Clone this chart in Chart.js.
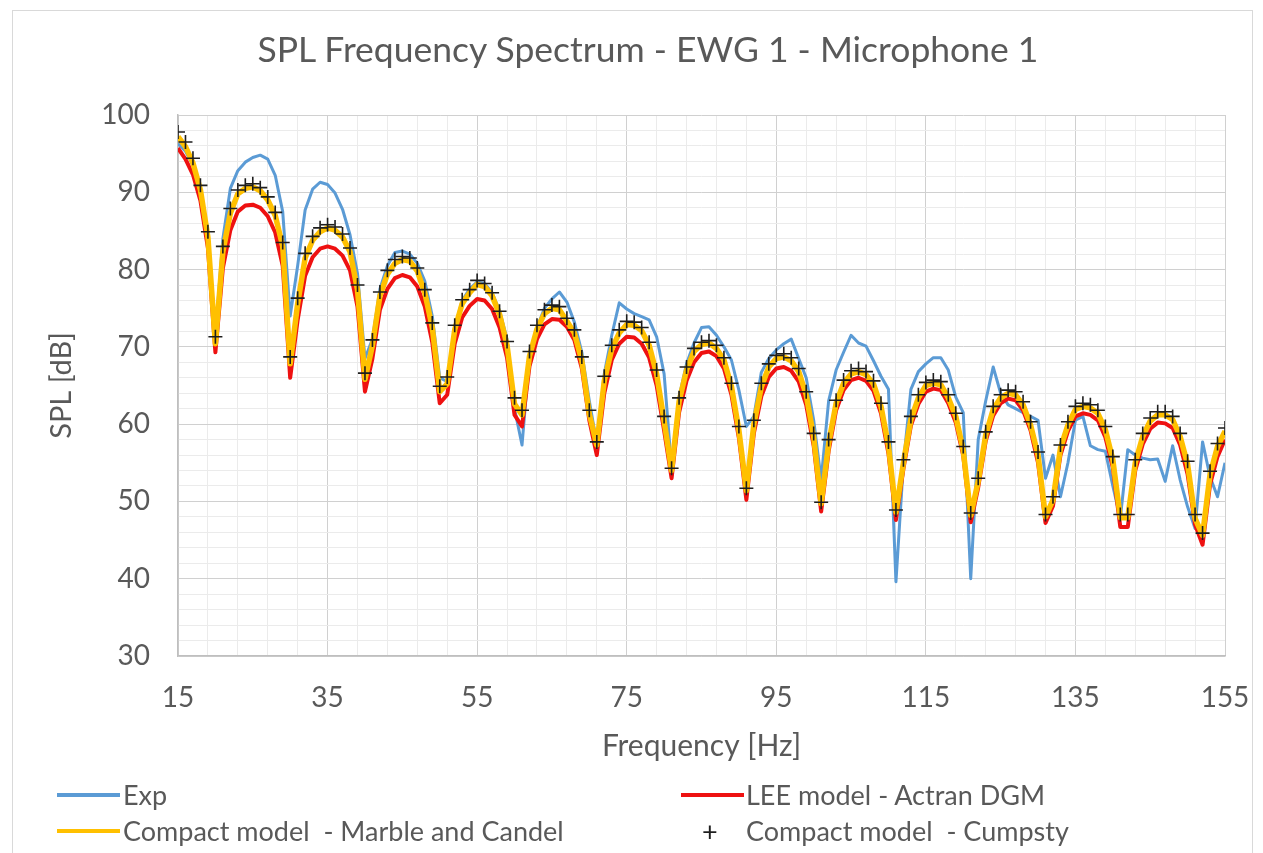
<!DOCTYPE html>
<html>
<head>
<meta charset="utf-8">
<script src="https://cdn.jsdelivr.net/npm/chart.js@4.4.0/dist/chart.umd.min.js"></script>
<style>
  html, body { margin: 0; padding: 0; background: #fff; }
  #wrap { position: relative; width: 1263px; height: 853px; overflow: hidden; }
  #frame { position: absolute; left: 12px; top: 10px; width: 1239px; height: 900px; border: 1px solid #d9d9d9; }
  canvas { position: absolute; left: 0; top: 0; }
  #title { position: absolute; left: 0; top: 29px; width: 1296px; text-align: center;
           font-family: Lato, sans-serif; font-size: 35.5px; line-height: 40px; color: #595959; }
  .item { position: absolute; height: 36px; display: flex; align-items: center;
          font-family: Lato, sans-serif; font-size: 27px; color: #595959; white-space: pre; }
  .swatch { position: absolute; height: 4px; }
</style>
</head>
<body>
<div id="wrap">
  <div id="frame"></div>
  <canvas id="splChart" width="1263" height="853"></canvas>
  <div id="title">SPL Frequency Spectrum - EWG 1 - Microphone 1</div>
  <div id="legend"></div>
</div>
<script>
// frequency bins [Hz]
const freqHz = [
  15, 16, 17, 18, 19, 20, 21, 22, 23, 24,
  25, 26, 27, 28, 29, 30, 31, 32, 33, 34,
  35, 36, 37, 38, 39, 40, 41, 42, 43, 44,
  45, 46, 47, 48, 49, 50, 51, 52, 53, 54,
  55, 56, 57, 58, 59, 60, 61, 62, 63, 64,
  65, 66, 67, 68, 69, 70, 71, 72, 73, 74,
  75, 76, 77, 78, 79, 80, 81, 82, 83, 84,
  85, 86, 87, 88, 89, 90, 91, 92, 93, 94,
  95, 96, 97, 98, 99, 100, 101, 102, 103, 104,
  105, 106, 107, 108, 109, 110, 111, 112, 113, 114,
  115, 116, 117, 118, 119, 120, 121, 122, 123, 124,
  125, 126, 127, 128, 129, 130, 131, 132, 133, 134,
  135, 136, 137, 138, 139, 140, 141, 142, 143, 144,
  145, 146, 147, 148, 149, 150, 151, 152, 153, 154,
  155
];

// Exp
const expDb = [
  96.3, 95.3, 93.5, 90.0, 84.5, 71.5, 84.0, 90.5, 92.8, 93.9,
  94.5, 94.8, 94.3, 92.2, 87.5, 74.0, 80.5, 87.7, 90.4, 91.3,
  91.0, 89.9, 87.8, 84.5, 79.5, 68.5, 71.0, 77.5, 80.5, 82.2,
  82.4, 82.0, 80.8, 78.5, 74.0, 66.0, 65.5, 72.5, 76.0, 77.5,
  78.4, 78.2, 77.0, 74.7, 71.0, 62.0, 57.3, 68.8, 72.5, 75.0,
  76.2, 77.1, 75.8, 73.2, 69.3, 63.0, 57.5, 66.5, 71.5, 75.7,
  74.9, 74.3, 73.9, 73.5, 71.3, 66.5, 54.3, 63.5, 67.8, 70.5,
  72.5, 72.6, 71.5, 70.0, 68.3, 64.4, 59.7, 61.0, 66.7, 68.5,
  69.6, 70.4, 71.0, 68.5, 66.0, 60.5, 52.8, 63.0, 67.0, 69.3,
  71.5, 70.5, 70.1, 68.2, 66.2, 64.5, 39.6, 55.0, 64.5, 66.8,
  67.8, 68.6, 68.6, 67.0, 63.5, 61.5, 40.0, 58.0, 63.0, 67.4,
  64.0, 62.5, 62.0, 61.5, 61.0, 60.5, 53.0, 56.0, 50.6, 55.0,
  60.5, 61.0, 57.2, 56.7, 56.5, 52.0, 47.8, 56.7, 56.0, 55.6,
  55.4, 55.5, 52.6, 57.2, 52.8, 49.3, 46.5, 57.7, 53.2, 50.6,
  55.0
];

// LEE model - Actran DGM
const leeDb = [
  95.7, 94.3, 92.3, 88.9, 82.8, 69.3, 80.2, 85.1, 87.5, 88.3,
  88.4, 88.0, 86.9, 84.8, 80.5, 66.0, 73.5, 79.2, 81.6, 82.7,
  83.0, 82.7, 81.8, 79.9, 75.2, 64.2, 68.5, 74.8, 77.5, 78.9,
  79.3, 79.0, 77.8, 75.2, 70.6, 62.7, 63.8, 70.4, 73.8, 75.3,
  76.2, 76.0, 74.9, 72.5, 68.6, 61.2, 59.7, 67.5, 71.0, 72.9,
  73.6, 73.5, 72.6, 70.9, 67.2, 60.5, 56.0, 64.0, 68.3, 70.4,
  71.3, 71.2, 70.4, 68.6, 65.0, 59.2, 53.0, 61.5, 65.6, 68.0,
  69.2, 69.4, 68.8, 67.2, 63.8, 58.2, 50.2, 58.8, 63.6, 66.1,
  67.2, 67.4, 66.9, 65.5, 62.5, 57.2, 48.7, 56.5, 61.8, 64.4,
  65.7, 66.0, 65.6, 64.3, 61.4, 56.2, 47.6, 54.2, 59.8, 62.6,
  64.2, 64.6, 64.4, 62.7, 60.2, 55.9, 47.3, 51.8, 57.8, 61.1,
  62.7, 63.3, 63.1, 61.8, 59.2, 55.0, 47.2, 49.4, 56.0, 59.1,
  61.0, 61.4, 61.2, 60.5, 58.3, 54.4, 46.7, 46.7, 54.0, 57.4,
  59.4, 60.2, 60.1, 59.5, 57.3, 53.5, 47.0, 44.4, 52.2, 55.8,
  58.0
];

// Compact model - Marble and Candel
const marbleCandelDb = [
  97.2, 95.9, 93.8, 90.3, 84.2, 70.4, 82.3, 87.3, 89.8, 90.5,
  90.7, 90.2, 89.0, 87.0, 83.0, 67.8, 75.6, 81.5, 83.8, 84.9,
  85.4, 85.1, 84.2, 82.3, 77.4, 65.8, 70.2, 76.6, 79.4, 80.8,
  81.3, 81.1, 79.8, 77.0, 72.5, 64.2, 65.2, 72.2, 75.6, 77.0,
  78.1, 77.8, 76.6, 74.2, 70.2, 62.6, 61.2, 68.8, 72.3, 74.3,
  75.0, 74.8, 73.3, 71.8, 68.2, 61.3, 57.3, 65.6, 69.7, 71.8,
  72.9, 72.8, 72.1, 70.2, 66.5, 60.4, 54.0, 62.9, 67.0, 69.4,
  70.3, 70.5, 69.8, 68.3, 64.9, 59.2, 51.4, 60.0, 64.8, 67.4,
  68.5, 68.7, 68.2, 66.8, 63.8, 58.3, 49.7, 57.5, 62.7, 65.3,
  66.5, 66.8, 66.4, 65.2, 62.3, 57.2, 48.6, 55.0, 60.6, 63.4,
  65.0, 65.3, 65.1, 63.4, 61.0, 56.6, 48.2, 52.6, 58.6, 61.9,
  63.4, 64.0, 63.8, 62.5, 59.9, 56.0, 48.0, 50.2, 56.9, 59.9,
  61.9, 62.3, 62.1, 61.4, 59.3, 55.4, 47.9, 47.9, 55.0, 58.4,
  60.4, 61.2, 61.2, 60.6, 58.4, 54.8, 47.8, 45.6, 53.5, 57.1,
  59.1
];

// Compact model - Cumpsty
const cumpstyDb = [
  97.8, 96.5, 94.4, 90.9, 84.9, 71.3, 83.0, 87.9, 90.3, 90.9,
  91.1, 90.6, 89.4, 87.4, 83.5, 68.7, 76.3, 82.1, 84.3, 85.4,
  85.8, 85.5, 84.6, 82.8, 78.0, 66.6, 70.9, 77.1, 79.9, 81.3,
  81.7, 81.5, 80.2, 77.4, 73.1, 64.9, 66.1, 72.8, 76.1, 77.4,
  78.6, 78.2, 77.0, 74.6, 70.7, 63.4, 61.8, 69.4, 72.8, 74.8,
  75.4, 75.2, 73.7, 72.2, 68.7, 61.8, 57.7, 66.2, 70.2, 72.2,
  73.3, 73.2, 72.5, 70.6, 67.0, 61.0, 54.3, 63.4, 67.4, 69.8,
  70.6, 70.8, 70.2, 68.6, 65.3, 59.7, 51.7, 60.5, 65.3, 67.8,
  68.9, 69.1, 68.6, 67.2, 64.2, 58.8, 49.9, 58.0, 63.1, 65.7,
  66.9, 67.2, 66.8, 65.6, 62.7, 57.7, 48.9, 55.4, 61.0, 63.8,
  65.4, 65.7, 65.5, 63.8, 61.4, 57.1, 48.5, 53.0, 59.0, 62.3,
  63.8, 64.4, 64.2, 62.9, 60.3, 56.4, 48.3, 50.6, 57.3, 60.3,
  62.3, 62.7, 62.5, 61.8, 59.7, 55.8, 48.3, 48.3, 55.4, 58.8,
  60.8, 61.6, 61.6, 61.0, 58.8, 55.2, 48.3, 45.9, 53.9, 57.5,
  59.5
];

const seriesNames = ['Exp', 'LEE model - Actran DGM', 'Compact model  - Marble and Candel', 'Compact model  - Cumpsty'];
const xLabelTicks = [15, 35, 55, 75, 95, 115, 135, 155];
const yLabelTicks = [30, 40, 50, 60, 70, 80, 90, 100];

const FONT = 'Lato';
const GREY_TEXT = '#595959';

const toPoints = (vals) => freqHz.map((f, i) => ({ x: f, y: vals[i] }));

const ctx = document.getElementById('splChart').getContext('2d');
const splChart = new Chart(ctx, {
  type: 'line',
  data: {
    datasets: [
      {
        label: seriesNames[3],
        data: toPoints(cumpstyDb),
        showLine: false,
        pointStyle: 'cross',
        pointRadius: 7,
        pointBorderWidth: 1.6,
        pointBorderColor: '#1e1e1e',
        pointBackgroundColor: '#1e1e1e',
        order: 0
      },
      {
        label: seriesNames[2],
        data: toPoints(marbleCandelDb),
        borderColor: '#ffc000',
        borderWidth: 5.5,
        borderJoinStyle: 'round',
        pointRadius: 0,
        order: 1
      },
      {
        label: seriesNames[1],
        data: toPoints(leeDb),
        borderColor: '#ee1111',
        borderWidth: 4,
        borderJoinStyle: 'round',
        pointRadius: 0,
        order: 2
      },
      {
        label: seriesNames[0],
        data: toPoints(expDb),
        borderColor: '#5b9bd5',
        borderWidth: 3,
        borderJoinStyle: 'round',
        pointRadius: 0,
        order: 3
      }
    ]
  },
  options: {
    responsive: false,
    animation: false,
    layout: { padding: { left: 0, right: 38, top: 115, bottom: 87 } },
    plugins: {
      legend: { display: false },
      tooltip: { enabled: false },
      title: { display: false }
    },
    scales: {
      x: {
        type: 'linear',
        min: 15,
        max: 155,
        afterBuildTicks: (scale) => {
          const t = [];
          for (let v = 15; v <= 155; v += 4) t.push({ value: v });
          scale.ticks = t;
        },
        afterFit: (scale) => {
          scale.height = 110;
          // the "155" label may hang into the right margin
          scale.paddingRight = 0;
          scale.paddingLeft = 0;
        },
        ticks: {
          autoSkip: false,
          maxRotation: 0,
          padding: 25,
          color: GREY_TEXT,
          font: { family: FONT, size: 28 },
          callback: (v) => xLabelTicks.includes(v) ? String(v) : ''
        },
        grid: {
          drawTicks: false,
          color: (c) => (c.tick && xLabelTicks.includes(c.tick.value)) ? '#d0d0d0' : '#ebebeb',
          lineWidth: 1
        },
        border: { color: '#bfbfbf', width: 1.5 },
        title: {
          display: true,
          text: 'Frequency [Hz]',
          color: GREY_TEXT,
          font: { family: FONT, size: 30 },
          padding: { top: 0, bottom: 2 }
        }
      },
      y: {
        min: 30,
        max: 100,
        afterFit: (scale) => { scale.width = 178; },
        ticks: {
          stepSize: 2,
          autoSkip: false,
          padding: 28,
          color: GREY_TEXT,
          font: { family: FONT, size: 28 },
          callback: (v) => yLabelTicks.includes(v) ? String(v) : ''
        },
        grid: {
          drawTicks: false,
          color: (c) => (c.tick && yLabelTicks.includes(c.tick.value)) ? '#d0d0d0' : '#ebebeb',
          lineWidth: 1
        },
        border: { color: '#bfbfbf', width: 1.5 },
        title: {
          display: true,
          text: 'SPL [dB]',
          color: GREY_TEXT,
          font: { family: FONT, size: 29 },
          padding: { top: 44, bottom: 0 }
        }
      }
    }
  }
});

// legend laid out in two columns like the original
const legendSpots = [
  { swatchX: 57, textX: 123, y: 795 },
  { swatchX: 681, textX: 746, y: 795 },
  { swatchX: 57, textX: 123, y: 831 },
  { swatchX: 681, textX: 746, y: 831 }
];
const legendEl = document.getElementById('legend');
const byLabel = {};
splChart.data.datasets.forEach(ds => { byLabel[ds.label] = ds; });
seriesNames.forEach((name, i) => {
  const spot = legendSpots[i];
  const ds = byLabel[name];
  if (ds.showLine === false) {
    const plus = document.createElement('div');
    plus.className = 'item';
    plus.style.left = (spot.swatchX + 21) + 'px';
    plus.style.top = (spot.y - 19) + 'px';
    plus.style.color = '#1e1e1e';
    plus.textContent = '+';
    legendEl.appendChild(plus);
  } else {
    const sw = document.createElement('div');
    sw.className = 'swatch';
    sw.style.left = spot.swatchX + 'px';
    sw.style.width = '63px';
    sw.style.top = (spot.y - 2) + 'px';
    sw.style.background = ds.borderColor;
    legendEl.appendChild(sw);
  }
  const txt = document.createElement('div');
  txt.className = 'item';
  txt.style.left = spot.textX + 'px';
  txt.style.top = (spot.y - 19) + 'px';
  txt.textContent = name;
  legendEl.appendChild(txt);
});
</script>
</body>
</html>
